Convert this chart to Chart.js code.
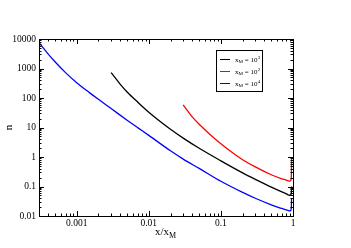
<!DOCTYPE html>
<html>
<head>
<meta charset="utf-8">
<script src="https://cdn.jsdelivr.net/npm/chart.js@4.4.0/dist/chart.umd.min.js"></script>
<style>
  html, body { margin: 0; padding: 0; background: #fff; }
  #wrap { width: 351px; height: 248px; }
</style>
</head>
<body>
<div id="wrap"><canvas id="chart" width="351" height="248"></canvas></div>
<script>
// values (log-log)
const xBlue = [0.0003, 0.0004, 0.0005, 0.0007, 0.001, 0.0015, 0.002, 0.003, 0.005, 0.007, 0.01, 0.02, 0.03, 0.05, 0.1, 0.2, 0.3, 0.5, 0.7, 0.8, 0.85, 0.9, 0.925, 0.94, 0.948, 0.952, 0.955];
const nBlue = [7500, 3150, 1700, 725, 330, 152, 90, 44, 17.7, 9.9, 5.4, 1.62, 0.85, 0.41, 0.15, 0.063, 0.040, 0.024, 0.018, 0.0162, 0.0155, 0.015, 0.0152, 0.0165, 0.02, 0.026, 0.04];

const xBlack = [0.003, 0.004, 0.005, 0.007, 0.01, 0.015, 0.02, 0.03, 0.05, 0.1, 0.2, 0.3, 0.5, 0.7, 0.8, 0.85, 0.9, 0.925, 0.94, 0.948, 0.952, 0.955];
const nBlack = [725, 297, 160, 73, 33, 14.8, 8.7, 4.35, 1.97, 0.74, 0.29, 0.175, 0.095, 0.066, 0.057, 0.0525, 0.0505, 0.051, 0.054, 0.062, 0.075, 0.1];

const xRed = [0.03, 0.035, 0.04, 0.05, 0.07, 0.1, 0.15, 0.2, 0.3, 0.5, 0.7, 0.8, 0.85, 0.9, 0.925, 0.94, 0.948, 0.952, 0.955];
const nRed = [59, 35, 23, 12.9, 5.95, 2.82, 1.31, 0.81, 0.46, 0.25, 0.182, 0.166, 0.158, 0.153, 0.156, 0.17, 0.22, 0.35, 0.93];

const xTicks = [0.001, 0.01, 0.1, 1];
const yTicks = [0.01, 0.1, 1, 10, 100, 1000, 10000];

// legend entries: colour, exponent of x_M
const legendColors = ['#000000', '#ff0000', '#0000ff'];
const legendExps = ['3', '2', '4'];

const serif = '"Liberation Serif", "DejaVu Serif", serif';

function toPoints(xs, ys) {
    return xs.map((x, i) => ({ x: x, y: ys[i] }));
}

// draws the inward minor/major ticks on all four sides
function drawLogTicks(ctx, scale, area, horizontal) {
    const lo = Math.floor(Math.log10(scale.min));
    const hi = Math.ceil(Math.log10(scale.max));
    for (let e = lo; e <= hi; e++) {
        for (let m = 1; m <= 9; m++) {
            const v = m * Math.pow(10, e);
            if (v < scale.min * 0.999 || v > scale.max * 1.001) continue;
            const p = Math.round(scale.getPixelForValue(v)) + 0.5;
            const len = m === 1 ? 5 : 2.5;
            ctx.beginPath();
            if (horizontal) {
                ctx.moveTo(p, area.bottom); ctx.lineTo(p, area.bottom - len);
                ctx.moveTo(p, area.top); ctx.lineTo(p, area.top + len);
            } else {
                ctx.moveTo(area.left, p); ctx.lineTo(area.left + len, p);
                ctx.moveTo(area.right, p); ctx.lineTo(area.right - len, p);
            }
            ctx.stroke();
        }
    }
}

const framePlugin = {
    id: 'frame',
    afterDraw(chart) {
        const ctx = chart.ctx;
        const a = chart.chartArea;
        ctx.save();
        ctx.strokeStyle = '#000';
        ctx.lineWidth = 1;
        ctx.strokeRect(Math.round(a.left) + 0.5, Math.round(a.top) + 0.5,
            Math.round(a.right - a.left), Math.round(a.bottom - a.top));
        drawLogTicks(ctx, chart.scales.x, a, true);
        drawLogTicks(ctx, chart.scales.y, a, false);

        // x axis title x/x_M
        ctx.fillStyle = '#000';
        ctx.textBaseline = 'alphabetic';
        ctx.textAlign = 'left';
        ctx.font = '11px ' + serif;
        const tx = 155, ty = 235;
        ctx.fillText('x/x', tx, ty);
        const w = ctx.measureText('x/x').width;
        ctx.font = '8px ' + serif;
        ctx.fillText('M', tx + w, ty + 3);

        // legend box
        ctx.strokeRect(216.5, 50.5, 46, 41);
        legendColors.forEach((c, i) => {
            const y = 59 + i * 12;
            ctx.strokeStyle = c;
            ctx.beginPath();
            ctx.moveTo(220, y + 0.5); ctx.lineTo(230, y + 0.5);
            ctx.stroke();
            let x = 235;
            ctx.fillStyle = '#000';
            ctx.font = '7px ' + serif;
            ctx.fillText('x', x, y + 2.5);
            x += ctx.measureText('x').width;
            ctx.font = '5px ' + serif;
            ctx.fillText('M', x, y + 4);
            x += ctx.measureText('M').width;
            ctx.font = '7px ' + serif;
            ctx.fillText(' = 10', x, y + 2.5);
            x += ctx.measureText(' = 10').width;
            ctx.font = '5px ' + serif;
            ctx.fillText(legendExps[i], x + 0.3, y - 0.5);
        });
        ctx.restore();
    }
};

const lineStyle = {
    showLine: true,
    pointRadius: 0,
    borderWidth: 1.3,
    cubicInterpolationMode: 'monotone',
    fill: false
};

new Chart(document.getElementById('chart'), {
    type: 'scatter',
    data: {
        datasets: [
            Object.assign({ label: 'xM=10^3', data: toPoints(xBlack, nBlack), borderColor: '#000000' }, lineStyle),
            Object.assign({ label: 'xM=10^2', data: toPoints(xRed, nRed), borderColor: '#ff0000' }, lineStyle),
            Object.assign({ label: 'xM=10^4', data: toPoints(xBlue, nBlue), borderColor: '#0000ff' }, lineStyle)
        ]
    },
    options: {
        responsive: false,
        animation: false,
        layout: { padding: { left: 0, top: 39, right: 58, bottom: 0 } },
        plugins: { legend: { display: false }, tooltip: { enabled: false } },
        scales: {
            x: {
                type: 'logarithmic',
                min: 0.0003,
                max: 1,
                grid: { display: false, drawTicks: false },
                border: { display: false },
                afterBuildTicks: s => { s.ticks = xTicks.map(v => ({ value: v })); },
                afterFit: s => { s.height = 32; },
                ticks: {
                    autoSkip: false, maxRotation: 0, padding: 2, color: '#000',
                    font: { family: serif, size: 9.5 },
                    callback: v => String(v)
                }
            },
            y: {
                type: 'logarithmic',
                min: 0.01,
                max: 10000,
                grid: { display: false, drawTicks: false },
                border: { display: false },
                afterBuildTicks: s => { s.ticks = yTicks.map(v => ({ value: v })); },
                afterFit: s => { s.width = 39; },
                title: { display: true, text: 'n', color: '#000', font: { family: serif, size: 11 }, padding: { top: 3, bottom: 0 } },
                ticks: {
                    autoSkip: false, padding: 3, color: '#000',
                    font: { family: serif, size: 9.5 },
                    callback: v => String(v)
                }
            }
        }
    },
    plugins: [framePlugin]
});
</script>
</body>
</html>
